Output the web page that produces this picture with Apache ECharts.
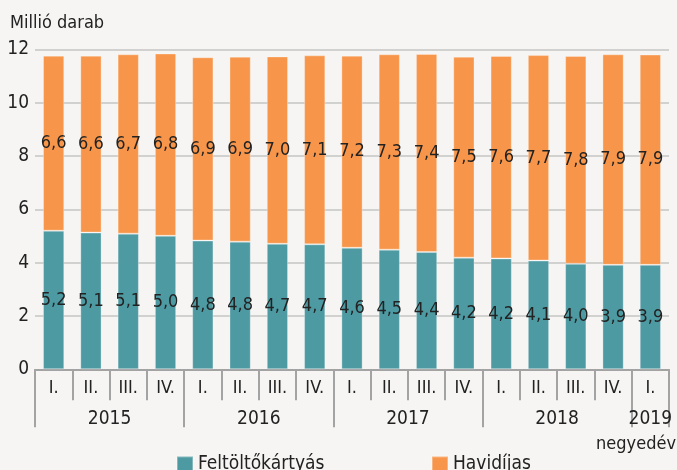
<!DOCTYPE html>
<html>
<head>
<meta charset="utf-8">
<script src="https://cdn.jsdelivr.net/npm/echarts@6/dist/echarts.min.js"></script>
<style>
  html, body { margin: 0; padding: 0; background: #f6f5f3; }
  #main { width: 677px; height: 470px; }
</style>
</head>
<body>
<div id="main"></div>
<script>
var quarters = ['I.', 'II.', 'III.', 'IV.', 'I.', 'II.', 'III.', 'IV.', 'I.', 'II.', 'III.', 'IV.', 'I.', 'II.', 'III.', 'IV.', 'I.'];
var years = ['2015', '2016', '2017', '2018', '2019'];
var yearSizes = [4, 4, 4, 4, 1];
var feltolto = [5.20, 5.13, 5.09, 5.01, 4.83, 4.79, 4.71, 4.69, 4.56, 4.49, 4.40, 4.19, 4.16, 4.08, 3.96, 3.92, 3.92];
var havidijas = [6.57, 6.64, 6.73, 6.84, 6.88, 6.94, 7.03, 7.09, 7.21, 7.33, 7.43, 7.54, 7.60, 7.71, 7.80, 7.90, 7.89];
var yTicks = [0, 2, 4, 6, 8, 10, 12];

var font = "'Liberation Sans Narrow', 'DejaVu Sans Condensed', 'Liberation Sans', sans-serif";
var textColor = '#222222';

// year group boundaries and centres on a 0..17 value axis
var bounds = [0];
var centers = [];
yearSizes.forEach(function (n) {
    var start = bounds[bounds.length - 1];
    centers.push(start + n / 2);
    bounds.push(start + n);
});

function fmt(v) {
    return v.toFixed(1).replace('.', ',');
}

var dom = document.getElementById('main');
var myChart = echarts.init(dom);

var option = {
    backgroundColor: '#f6f5f3',
    animation: false,
    textStyle: { fontFamily: font },
    title: [{
        text: 'Millió darab',
        left: 10,
        top: 14,
        padding: 0,
        textStyle: { fontFamily: font, fontSize: 18, fontWeight: 'normal', color: textColor }
    }, {
        text: 'negyedév',
        right: 1,
        top: 435,
        padding: 0,
        textStyle: { fontFamily: font, fontSize: 18, fontWeight: 'normal', color: textColor }
    }],
    legend: [{
        data: ['Feltöltőkártyás'],
        icon: 'rect',
        left: 171,
        top: 450,
        itemWidth: 16,
        itemHeight: 16,
        itemGap: 8,
        textStyle: { fontFamily: font, fontSize: 19, color: textColor }
    }, {
        data: ['Havidíjas'],
        icon: 'rect',
        left: 426,
        top: 450,
        itemWidth: 16,
        itemHeight: 16,
        textStyle: { fontFamily: font, fontSize: 19, color: textColor }
    }],
    grid: {
        left: 35,
        right: 8,
        top: 49.5,
        bottom: 100.7,
        containLabel: false
    },
    xAxis: [{
        type: 'category',
        data: quarters,
        boundaryGap: true,
        axisLine: { show: true, lineStyle: { color: '#a3a3a3', width: 2 } },
        axisTick: { show: true, interval: 0, length: 31, lineStyle: { color: '#a3a3a3', width: 2 } },
        axisLabel: { interval: 0, margin: 10, fontSize: 18, color: textColor, fontFamily: font },
        splitLine: { show: false }
    }, {
        type: 'value',
        min: 0,
        max: quarters.length,
        position: 'bottom',
        axisLine: { show: false },
        splitLine: { show: false },
        axisTick: {
            show: true,
            customValues: bounds,
            length: 58,
            lineStyle: { color: '#a3a3a3', width: 2 }
        },
        axisLabel: {
            customValues: centers,
            margin: 40,
            fontSize: 19,
            color: textColor,
            fontFamily: font,
            formatter: function (v) {
                var i = centers.indexOf(v);
                return i >= 0 ? years[i] : '';
            }
        }
    }],
    yAxis: {
        type: 'value',
        min: yTicks[0],
        max: yTicks[yTicks.length - 1],
        interval: 2,
        axisLine: { show: false },
        axisTick: { show: false },
        axisLabel: { margin: 6, fontSize: 19, color: textColor, fontFamily: font },
        splitLine: { lineStyle: { color: '#c4c4c4', width: 1.5 } }
    },
    series: [{
        name: 'Feltöltőkártyás',
        type: 'bar',
        stack: 'total',
        xAxisIndex: 0,
        barCategoryGap: '43%',
        data: feltolto,
        itemStyle: { color: '#4e9aa3', borderColor: 'rgba(255,255,255,0.3)', borderWidth: 1 },
        label: {
            show: true,
            position: 'inside',
            fontSize: 18,
            color: textColor,
            fontFamily: font,
            formatter: function (p) { return fmt(p.value); }
        }
    }, {
        name: 'Havidíjas',
        type: 'bar',
        stack: 'total',
        xAxisIndex: 0,
        barCategoryGap: '43%',
        data: havidijas,
        itemStyle: { color: '#f7964a', borderColor: 'rgba(255,255,255,0.3)', borderWidth: 1 },
        label: {
            show: true,
            position: 'inside',
            fontSize: 18,
            color: textColor,
            fontFamily: font,
            formatter: function (p) { return fmt(p.value); }
        }
    }]
};

if (option && typeof option === 'object') {
    myChart.setOption(option, true);
}
</script>
</body>
</html>
